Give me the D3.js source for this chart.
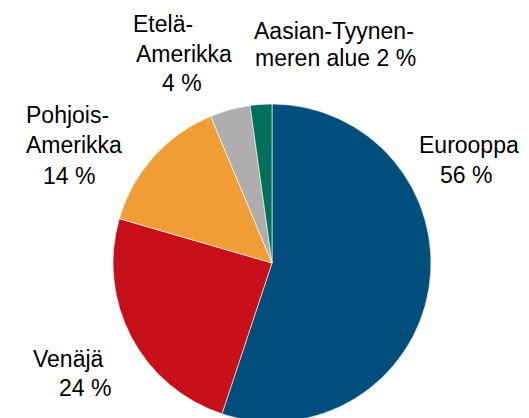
<!DOCTYPE html>
<html>
<head>
<meta charset="utf-8">
<script src="https://cdn.jsdelivr.net/npm/d3@7"></script>
<style>
  html, body { margin: 0; padding: 0; background: #fff; }
  svg { display: block; }
</style>
</head>
<body>
<div class="chart"></div>
<script>
// piirakka: alueiden osuudet

var categories = ["Eurooppa", "Venäjä", "Pohjois-Amerikka", "Etelä-Amerikka", "Aasian-Tyynenmeren alue"];
// slice sizes
var values = [55.1, 24.4, 14.2, 4.1, 2.2];
var labelLines = [
    ["Eurooppa", "56 %"],
    ["Venäjä", "24 %"],
    ["Pohjois-", "Amerikka", "14 %"],
    ["Etelä-", "Amerikka", "4 %"],
    ["Aasian-Tyynen-", "meren alue 2 %"]
];
var colors = ["#004e7c", "#c70f1a", "#ef9d34", "#adadad", "#00705b"];

var width = 529,
    height = 418;

/* label placement: [x, y] of each line's baseline start */
var labelPos = [
    [[419, 153], [440, 183]],
    [[33, 367], [59, 396]],
    [[26, 123], [26, 153], [43, 184]],
    [[133, 32], [136, 62], [162, 91]],
    [[254, 39], [255, 66]]
];

var svg = d3.select(".chart").append("svg")
    .attr("width", width)
    .attr("height", height);

var color = d3.scaleOrdinal().domain(categories).range(colors);

var pie = d3.pie()
    .sort(null)
    .value(function(d, i) { return values[i]; });

var arc = d3.arc()
    .innerRadius(0)
    .outerRadius(159);

var g = svg.append("g")
    .attr("transform", "translate(272,263)");

g.selectAll("path")
    .data(pie(categories))
    .enter().append("path")
    .attr("d", arc)
    .attr("fill", function(d) { return color(d.data); })
    .attr("stroke", "#fff")
    .attr("stroke-width", 0.6);

// labels
var labels = svg.append("g")
    .attr("font-family", "Liberation Sans, Arial, sans-serif")
    .attr("font-size", 23)
    .attr("fill", "#000");

labelLines.forEach(function(lines, i) {
    lines.forEach(function(t, j) {
        labels.append("text")
            .attr("x", labelPos[i][j][0])
            .attr("y", labelPos[i][j][1])
            .text(t);
    });
});
</script>
</body>
</html>
